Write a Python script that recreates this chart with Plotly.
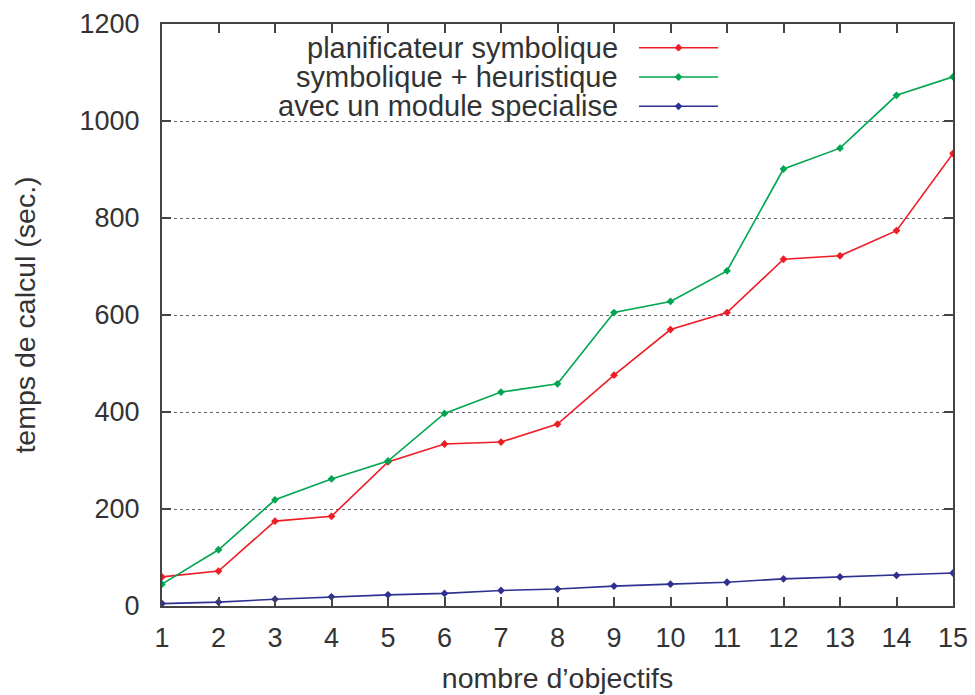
import plotly.graph_objects as go

x_vals = list(range(1, 16))
x_tick_labels = [str(v) for v in x_vals]
y_tick_vals = [0, 200, 400, 600, 800, 1000, 1200]

series_names = ["planificateur symbolique", "symbolique + heuristique", "avec un module specialise"]
planificateur = [60, 72, 175, 185, 297, 334, 338, 375, 476, 570, 605, 715, 722, 774, 933]
heuristique = [45, 116, 219, 262, 299, 397, 441, 458, 605, 628, 691, 901, 944, 1053, 1091]
specialise = [5, 8, 14, 19, 23, 26, 32, 35, 41, 45, 49, 56, 60, 63, 68]
series_colors = ["#ee1c25", "#00a551", "#2e3192"]

FONT = "Liberation Sans, Arial, Helvetica, sans-serif"
TXT = "#333333"
AX = "#444444"

fig = go.Figure()
for name, vals, col in zip(series_names, [planificateur, heuristique, specialise], series_colors):
    fig.add_trace(go.Scatter(
        x=x_vals, y=vals, mode="lines+markers", name=name,
        line=dict(color=col, width=1.6),
        marker=dict(symbol="diamond", size=6, color=col),
        showlegend=False,
    ))

# manual gnuplot-style legend (text right-aligned, sample to the right)
leg_y = [0.9593, 0.9089, 0.8586]
for name, col, ly in zip(series_names, series_colors, leg_y):
    fig.add_trace(go.Scatter(
        x=[0.603, 0.653, 0.703], y=[ly, ly, ly], xaxis="x2", yaxis="y2",
        mode="lines", line=dict(color=col, width=1.6), showlegend=False, hoverinfo="skip",
    ))
    fig.add_trace(go.Scatter(
        x=[0.653], y=[ly], xaxis="x2", yaxis="y2",
        mode="markers", marker=dict(symbol="diamond", size=6, color=col),
        showlegend=False, hoverinfo="skip",
    ))
    fig.add_annotation(
        x=0.579, y=ly, xref="x2", yref="y2", text=name, showarrow=False,
        xanchor="right", yanchor="middle",
        font=dict(family=FONT, size=29, color=TXT),
    )

fig.update_layout(
    width=975, height=695, autosize=False,
    margin=dict(l=162, r=22, t=24, b=89),
    paper_bgcolor="white", plot_bgcolor="white",
    font=dict(family=FONT, size=27, color=TXT),
    xaxis=dict(
        range=[1, 15], tickmode="array", tickvals=x_vals, ticktext=x_tick_labels,
        ticks="inside", ticklen=9, tickwidth=1.5, tickcolor=AX,
        showline=True, linecolor=AX, linewidth=2, mirror="ticks",
        showgrid=False, zeroline=False, ticklabelstandoff=7, automargin=False,
        tickfont=dict(family=FONT, size=27, color=TXT),
        title=dict(text="nombre d\u2019objectifs", standoff=16,
                   font=dict(family=FONT, size=28.5, color=TXT)),
    ),
    yaxis=dict(
        range=[0, 1200], tickmode="array", tickvals=y_tick_vals,
        ticks="inside", ticklen=9, tickwidth=1.5, tickcolor=AX,
        showline=True, linecolor=AX, linewidth=2, mirror="ticks",
        showgrid=True, gridcolor="#666666", griddash="dot", gridwidth=1,
        zeroline=False, ticklabelstandoff=15, automargin=False,
        tickfont=dict(family=FONT, size=27, color=TXT),
        title=dict(text="temps de calcul (sec.)", standoff=36,
                   font=dict(family=FONT, size=28.5, color=TXT)),
    ),
    xaxis2=dict(domain=[0, 1], range=[0, 1], overlaying="x", visible=False, fixedrange=True),
    yaxis2=dict(domain=[0, 1], range=[0, 1], overlaying="y", visible=False, fixedrange=True),
)

fig.write_html("out.html", config={"displayModeBar": False},
               post_script="document.body.style.margin='0';")
